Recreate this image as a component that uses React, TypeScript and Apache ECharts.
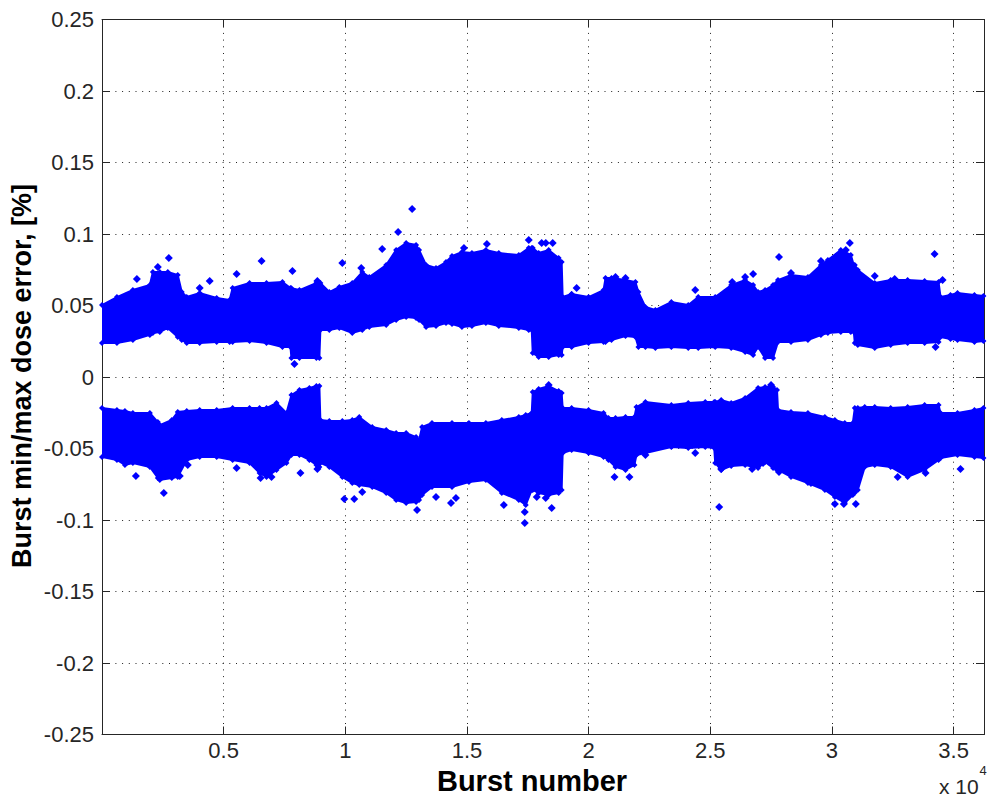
import React, { useEffect, useRef } from "react";
import * as echarts from "echarts";

// Burst number (raw units; axis labels shown in units of 10^4)
const upperX = [0, 615, 1270, 1967, 2090, 2377, 2705, 3114, 3278, 3483, 4016, 4713, 5245, 5368, 6065, 6762, 7417, 7745, 7786, 8114, 8811, 8934, 8975, 9343, 9753, 10286, 10696, 10983, 11679, 12089, 12499, 12909, 13032, 13319, 13728, 14138, 14384, 14794, 15204, 15777, 16310, 17130, 17539, 17662, 17703, 17949, 18359, 18769, 18892, 18933, 19302, 19998, 20613, 20695, 20941, 21515, 21924, 22047, 22334, 22744, 23400, 24096, 24506, 25203, 25859, 26432, 26760, 26965, 27252, 27580, 27784, 28317, 29014, 29547, 29833, 30366, 30776, 30899, 30940, 31063, 31760, 32415, 33112, 33809, 34382, 34464, 34874, 35161, 35858, 36226];
// Upper envelope of the "max dose error" cloud [%]
const upperMax = [0.0503, 0.0559, 0.0608, 0.0643, 0.0734, 0.0734, 0.0734, 0.0713, 0.0594, 0.0559, 0.0587, 0.0552, 0.0538, 0.0622, 0.0657, 0.0657, 0.0664, 0.0622, 0.062, 0.0608, 0.0657, 0.0657, 0.0657, 0.0594, 0.0629, 0.0657, 0.0734, 0.0699, 0.0783, 0.0888, 0.0937, 0.0923, 0.0888, 0.0783, 0.0762, 0.0804, 0.0846, 0.0874, 0.0867, 0.0888, 0.0867, 0.0853, 0.0902, 0.0902, 0.0902, 0.0867, 0.0888, 0.0832, 0.0804, 0.0559, 0.058, 0.0559, 0.0608, 0.0692, 0.0692, 0.0678, 0.0664, 0.0594, 0.049, 0.0469, 0.0524, 0.0503, 0.0559, 0.0559, 0.0643, 0.0678, 0.0643, 0.0594, 0.0608, 0.0643, 0.0678, 0.0713, 0.0699, 0.0783, 0.0818, 0.0888, 0.0853, 0.0783, 0.0783, 0.0748, 0.0657, 0.0678, 0.0678, 0.0671, 0.0664, 0.0559, 0.0573, 0.0587, 0.0573, 0.0566];
// Lower envelope of the "max dose error" cloud [%]
const upperMin = [0.0238, 0.0238, 0.0259, 0.0294, 0.0308, 0.0315, 0.0343, 0.028, 0.0259, 0.0238, 0.0238, 0.0245, 0.0245, 0.0245, 0.0252, 0.0238, 0.021, 0.021, 0.0133, 0.0133, 0.0133, 0.0133, 0.0329, 0.0329, 0.0343, 0.0308, 0.0329, 0.035, 0.0364, 0.0399, 0.042, 0.0413, 0.0399, 0.035, 0.0357, 0.0378, 0.0371, 0.035, 0.0357, 0.0378, 0.0357, 0.0343, 0.0329, 0.0329, 0.0168, 0.014, 0.014, 0.0154, 0.0154, 0.021, 0.021, 0.0238, 0.0245, 0.0245, 0.0259, 0.0287, 0.028, 0.021, 0.021, 0.0203, 0.021, 0.0203, 0.0203, 0.021, 0.0203, 0.0175, 0.0154, 0.021, 0.0133, 0.0133, 0.0245, 0.0245, 0.0259, 0.0294, 0.0308, 0.0315, 0.0315, 0.0315, 0.0238, 0.0224, 0.0203, 0.0224, 0.0238, 0.0238, 0.0245, 0.028, 0.0266, 0.0259, 0.0245, 0.0252];

const lowerX = [0, 615, 943, 1270, 1967, 2295, 2377, 2869, 3114, 3483, 4016, 4713, 5368, 6065, 6475, 6762, 7172, 7581, 7786, 8114, 8524, 8811, 8934, 8975, 9343, 9876, 10286, 10573, 11106, 11679, 12089, 12499, 12909, 13032, 13155, 13564, 14384, 15081, 15777, 16433, 17130, 17417, 17662, 17703, 17949, 18359, 18769, 18892, 18933, 19302, 19998, 20613, 20818, 21105, 21515, 21883, 21965, 22334, 23400, 24096, 24793, 25162, 25203, 25449, 25859, 26432, 26965, 27252, 27580, 27743, 27784, 28317, 29014, 29711, 30120, 30530, 30858, 30940, 31063, 31350, 31760, 32415, 33112, 33809, 34382, 34464, 35161, 35858, 36226];
// Upper envelope of the "min dose error" cloud [%]
const lowerMax = [-0.0217, -0.0231, -0.0238, -0.0252, -0.0252, -0.0315, -0.0336, -0.0301, -0.0245, -0.0238, -0.0231, -0.0231, -0.0217, -0.0217, -0.0217, -0.0217, -0.0182, -0.0252, -0.0126, -0.0091, -0.0077, -0.0063, -0.0063, -0.0301, -0.0308, -0.0308, -0.0301, -0.028, -0.035, -0.0371, -0.0392, -0.0392, -0.042, -0.0441, -0.035, -0.0322, -0.0322, -0.0322, -0.0322, -0.0301, -0.028, -0.0266, -0.0252, -0.0105, -0.0084, -0.0063, -0.0098, -0.0112, -0.0217, -0.0217, -0.0231, -0.0252, -0.0287, -0.0287, -0.028, -0.028, -0.021, -0.0175, -0.0196, -0.0182, -0.0175, -0.0175, -0.0175, -0.0161, -0.0182, -0.0147, -0.0077, -0.007, -0.007, -0.0091, -0.0231, -0.0245, -0.0252, -0.028, -0.0301, -0.0322, -0.0322, -0.0217, -0.0217, -0.021, -0.021, -0.0217, -0.021, -0.0196, -0.0196, -0.0252, -0.0252, -0.0231, -0.0217];
// Lower envelope of the "min dose error" cloud [%]
const lowerMin = [-0.0559, -0.058, -0.0615, -0.0601, -0.0629, -0.0706, -0.072, -0.0706, -0.0699, -0.058, -0.0559, -0.0559, -0.058, -0.0601, -0.0671, -0.0699, -0.065, -0.0601, -0.0545, -0.0545, -0.058, -0.0615, -0.0629, -0.0601, -0.0629, -0.0699, -0.0741, -0.0755, -0.0769, -0.0811, -0.086, -0.0881, -0.0874, -0.086, -0.0825, -0.0769, -0.0769, -0.0734, -0.072, -0.0811, -0.086, -0.0895, -0.079, -0.079, -0.0811, -0.0825, -0.0811, -0.079, -0.0531, -0.051, -0.0531, -0.0559, -0.058, -0.0629, -0.065, -0.0615, -0.0545, -0.0531, -0.049, -0.0497, -0.049, -0.0497, -0.0601, -0.065, -0.0622, -0.0615, -0.0636, -0.0594, -0.0636, -0.065, -0.065, -0.0699, -0.0741, -0.079, -0.0839, -0.0881, -0.0825, -0.081, -0.079, -0.0629, -0.0615, -0.0629, -0.0699, -0.065, -0.058, -0.0566, -0.0545, -0.0559, -0.0566];

// Isolated points outside the dense clouds
const outlierX = [1434, 2746, 2295, 4426, 4016, 5532, 6557, 7827, 8852, 7909, 12745, 12171, 9876, 10655, 11515, 14876, 15818, 17539, 18072, 18240, 18523, 19506, 19302, 21105, 21515, 24383, 25900, 26432, 26760, 27825, 29547, 30735, 30571, 34218, 28317, 31760, 32579, 34546, 34259,
  1393, 2541, 3196, 3524, 5532, 6516, 6967, 8155, 8852, 9958, 10368, 10696, 12950, 13728, 14343, 14548, 16515, 17376, 17376, 17867, 18482, 18236, 21064, 21678, 22334, 24383, 25367, 25449, 26719, 27825, 30120, 30489, 30981, 29137, 32702, 33849, 35284, 27170, 27498, 18359];
const outlierY = [0.0685, 0.0832, 0.0769, 0.0671, 0.0622, 0.072, 0.0811, 0.0741, 0.0671, 0.0091, 0.1175, 0.1014, 0.0797, 0.0762, 0.0895, 0.0902, 0.093, 0.0958, 0.0937, 0.0937, 0.0937, 0.0622, 0.0573, 0.0699, 0.0692, 0.0608, 0.0664, 0.0699, 0.072, 0.0839, 0.0811, 0.0937, 0.0888, 0.086, 0.0727, 0.0706, 0.0685, 0.0678, 0.021,
  -0.0692, -0.0811, -0.0692, -0.0615, -0.0636, -0.0706, -0.0699, -0.0671, -0.0643, -0.0853, -0.0853, -0.0804, -0.093, -0.0839, -0.0881, -0.0846, -0.0895, -0.0944, -0.1021, -0.0839, -0.0916, -0.0846, -0.0699, -0.0699, -0.0545, -0.0531, -0.0909, -0.0643, -0.0643, -0.0664, -0.0888, -0.0888, -0.0888, -0.0741, -0.0699, -0.0671, -0.0643, -0.0601, -0.0056, -0.0056];

const X_MIN = 0;
const X_MAX = 36250;
const X_STEP = 5000;
const Y_MIN = -0.25;
const Y_MAX = 0.25;
const Y_STEP = 0.05;

export default function App() {
  const ref = useRef<HTMLDivElement>(null);

  useEffect(() => {
    if (!ref.current) return;
    const chart = echarts.init(ref.current, null, { renderer: "svg" });
    const FONT = "'Liberation Sans', Arial, Helvetica, sans-serif";
    const BLUE = "#0000ff";
    const AX = "#262626";

    const upper = upperX.map((x, i) => [x, upperMax[i], upperMin[i]]);
    const lower = lowerX.map((x, i) => [x, lowerMax[i], lowerMin[i]]);

    const bandSeries = (name: string, rows: number[][]) => ({
      type: "custom",
      name,
      data: rows,
      clip: true,
      encode: { x: 0, y: [1, 2] },
      z: 2,
      renderItem: (params: any, api: any) => {
        if (params.dataIndex !== 0) return null;
        const pts: number[][] = [];
        for (let i = 0; i < rows.length; i++) pts.push(api.coord([rows[i][0], rows[i][1]]));
        for (let i = rows.length - 1; i >= 0; i--) pts.push(api.coord([rows[i][0], rows[i][2]]));
        return {
          type: "polygon",
          shape: { points: pts },
          style: { fill: BLUE, stroke: BLUE, lineWidth: 2, lineJoin: "miter", opacity: 1 },
        };
      },
    });

    const edgePts: number[][] = [];
    upper.forEach((r) => { edgePts.push([r[0], r[1]]); edgePts.push([r[0], r[2]]); });
    lower.forEach((r) => { edgePts.push([r[0], r[1]]); edgePts.push([r[0], r[2]]); });

    const tickFmt = (v: number) => (v > 0 && v % X_STEP === 0 ? String(v / 10000) : "");

    const axisLineStyle = { show: true, onZero: false, lineStyle: { color: AX, width: 1 } };
    const tickStyle = { show: true, inside: true, length: 8, lineStyle: { color: AX, width: 1 } };
    const gridLine = { show: true, lineStyle: { color: "#222222", width: 1, type: [1, 5.7] } };

    chart.setOption({
      animation: false,
      backgroundColor: "#ffffff",
      grid: { left: 102, top: 19.5, width: 884.5, height: 715, containLabel: false },
      xAxis: [
        {
          type: "value", position: "bottom", min: X_MIN, max: X_MAX, interval: X_STEP,
          axisLine: axisLineStyle, axisTick: tickStyle,
          axisLabel: { color: AX, fontSize: 22, fontFamily: FONT, margin: 5, formatter: tickFmt },
          splitLine: gridLine,
        },
        {
          type: "value", position: "top", min: X_MIN, max: X_MAX, interval: X_STEP,
          axisLine: axisLineStyle, axisTick: tickStyle, axisLabel: { show: false }, splitLine: { show: false },
        },
      ],
      yAxis: [
        {
          type: "value", position: "left", min: Y_MIN, max: Y_MAX, interval: Y_STEP,
          axisLine: axisLineStyle, axisTick: tickStyle,
          axisLabel: { color: AX, fontSize: 22, fontFamily: FONT, margin: 8 },
          splitLine: gridLine,
        },
        {
          type: "value", position: "right", min: Y_MIN, max: Y_MAX, interval: Y_STEP,
          axisLine: axisLineStyle, axisTick: tickStyle, axisLabel: { show: false }, splitLine: { show: false },
        },
      ],
      series: [
        bandSeries("max", upper),
        bandSeries("min", lower),
        {
          type: "scatter", name: "edge", data: edgePts, symbol: "diamond", symbolSize: 6,
          itemStyle: { color: BLUE, opacity: 1 }, z: 3, clip: true,
        },
        {
          type: "scatter", name: "outliers",
          data: outlierX.map((x, i) => [x, outlierY[i]]),
          symbol: "diamond", symbolSize: 8, itemStyle: { color: BLUE, opacity: 1 }, z: 3, clip: true,
        },
      ],
      graphic: [
        {
          type: "text", x: 532, y: 781,
          style: { text: "Burst number", fill: "#000", font: `bold 29px ${FONT}`, align: "center", verticalAlign: "middle", textAlign: "center", textVerticalAlign: "middle" },
        },
        {
          type: "text", x: 22, y: 376, rotation: Math.PI / 2,
          style: { text: "Burst min/max dose error, [%]", fill: "#000", font: `bold 27px ${FONT}`, align: "center", verticalAlign: "middle", textAlign: "center", textVerticalAlign: "middle" },
        },
        {
          type: "text", x: 939, y: 786,
          style: { text: "x 10", fill: AX, font: `21px ${FONT}`, align: "left", verticalAlign: "middle", textAlign: "left", textVerticalAlign: "middle" },
        },
        {
          type: "text", x: 979.5, y: 770,
          style: { text: "4", fill: AX, font: `13px ${FONT}`, align: "left", verticalAlign: "middle", textAlign: "left", textVerticalAlign: "middle" },
        },
      ],
    });

    return () => chart.dispose();
  }, []);

  return (
    <div
      ref={ref}
      style={{ position: "fixed", left: 0, top: 0, width: 987, height: 800, background: "#fff" }}
    />
  );
}
